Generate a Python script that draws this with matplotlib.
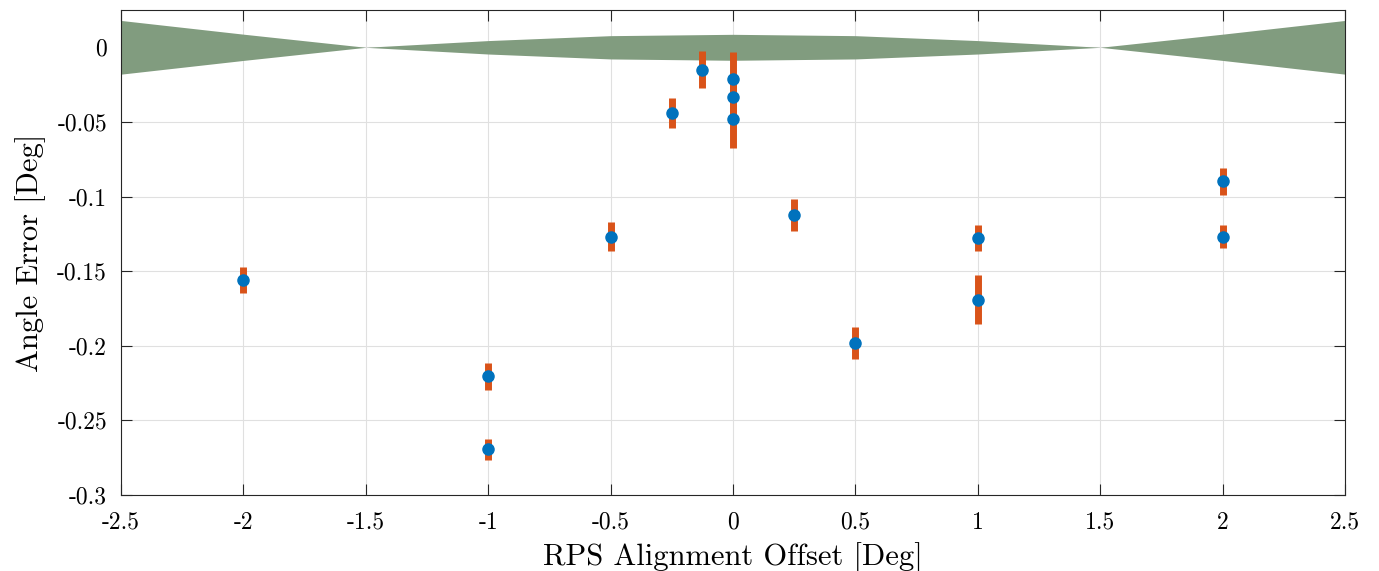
import matplotlib.pyplot as plt
import numpy as np

plt.rcParams['font.family'] = 'serif'
plt.rcParams['font.serif'] = ['cmr10']
plt.rcParams['axes.unicode_minus'] = False
plt.rcParams['axes.formatter.use_mathtext'] = False

# tolerance band (half width)
band_x = [-2.5, -2.0, -1.5, -1.0, -0.5, 0.0, 0.5, 1.0, 1.5, 2.0, 2.5]
band_w = [0.018, 0.0088, 0.0, 0.0045, 0.0078, 0.0087, 0.0078, 0.0045, 0.0, 0.0088, 0.018]

# measurements
offset = [-2.0, -1.0, -1.0, -0.5, -0.25, -0.125, 0.0, 0.0, 0.0, 0.25, 0.5, 1.0, 1.0, 2.0, 2.0]
err = [-0.156, -0.2204, -0.2695, -0.127, -0.0442, -0.0149, -0.021, -0.033, -0.048,
       -0.1125, -0.198, -0.128, -0.169, -0.0898, -0.127]
sd = [0.0085, 0.009, 0.007, 0.0097, 0.0099, 0.0123, 0.018, 0.015, 0.0195,
      0.0107, 0.0107, 0.0087, 0.0164, 0.009, 0.0077]

fig = plt.figure(figsize=(13.79, 5.71), dpi=100)
ax = fig.add_axes([0.0877, 0.1331, 0.8877, 0.8494])

bx = np.array(band_x)
bw = np.array(band_w)
ax.fill_between(bx, -bw, bw, color='#819c7f', linewidth=0, zorder=1)

ax.errorbar(offset, err, yerr=sd, fmt='none', ecolor='#D95319', elinewidth=5, capsize=0, zorder=3)
ax.plot(offset, err, 'o', color='#0072BD', markersize=8, zorder=4)

ax.set_xlim(-2.5, 2.5)
ax.set_ylim(-0.3, 0.025)
ax.set_xticks(np.arange(-2.5, 2.51, 0.5))
ax.set_xticklabels(['-2.5', '-2', '-1.5', '-1', '-0.5', '0', '0.5', '1', '1.5', '2', '2.5'])
ax.set_yticks([-0.3, -0.25, -0.2, -0.15, -0.1, -0.05, 0])
ax.set_yticklabels(['-0.3', '-0.25', '-0.2', '-0.15', '-0.1', '-0.05', '0'])
ax.grid(True, color='#e0e0e0', linewidth=0.8, zorder=0)
ax.set_axisbelow(True)
ax.tick_params(direction='in', top=True, right=True, length=8, width=0.8,
               labelsize=17, color='#262626')
ax.tick_params(axis='x', pad=12)
ax.tick_params(axis='y', pad=10)
for s in ax.spines.values():
    s.set_color('#262626')
    s.set_linewidth(0.8)

ax.set_xlabel('RPS Alignment Offset [Deg]', fontsize=22, labelpad=6)
ax.set_ylabel('Angle Error [Deg]', fontsize=22, labelpad=8)

plt.savefig('out.png', dpi=100)
